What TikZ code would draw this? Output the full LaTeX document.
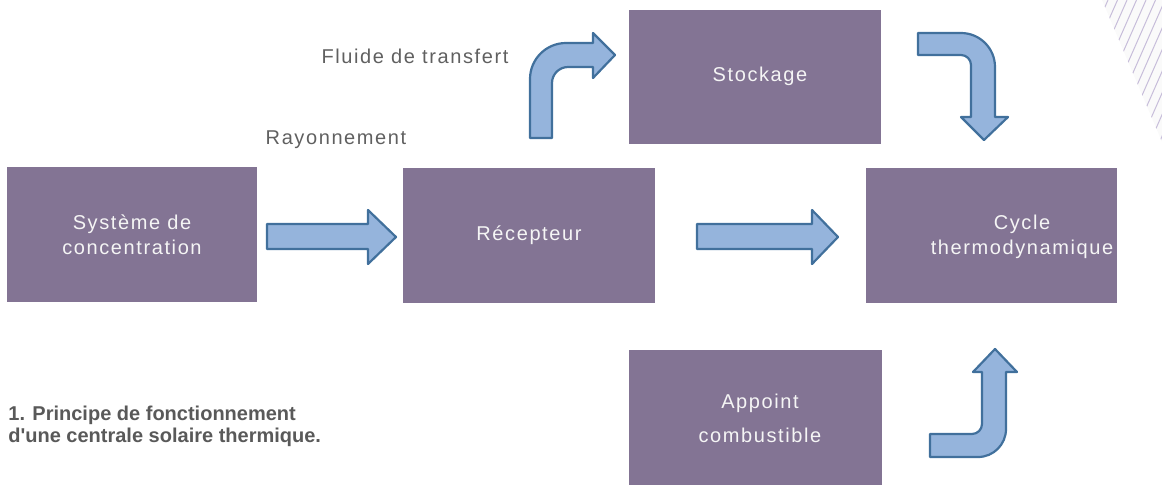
\documentclass[tikz,border=0pt]{standalone}
\usepackage{fontspec}
\setmainfont{Liberation Sans}
\newfontfamily\lblfont[LetterSpace=8]{Liberation Sans}
\newfontfamily\capfont{Liberation Sans}
\definecolor{boxc}{HTML}{837494}
\definecolor{arrfill}{HTML}{95B4DC}
\definecolor{arrline}{HTML}{41709C}
\definecolor{lblc}{HTML}{606060}
\definecolor{capc}{HTML}{595959}
\definecolor{hatchc}{HTML}{C7BDDA}
\definecolor{hatchbg}{HTML}{FAFAFA}
\tikzset{
  blk/.style={fill=boxc, inner sep=0pt, text=white!96!black, align=center,
              font=\lblfont\fontsize{10pt}{12.5pt}\selectfont},
  lbl/.style={text=lblc, inner sep=0pt, font=\lblfont\fontsize{10pt}{12pt}\selectfont},
  btxt/.style={text=white!96!black, inner sep=0pt, align=center, font=\lblfont\fontsize{10pt}{12.5pt}\selectfont},
  blockarrow/.style={fill=arrfill, draw=arrline, line width=1.1pt, line join=round},
  hatch/.style={draw=hatchc, line width=0.5pt}
}
\begin{document}
\begin{tikzpicture}[x=0.5pt,y=-0.5pt]
\useasboundingbox (0,0) rectangle (1162,484);
% hatching in the top-right corner
\begin{scope}
  \clip (1102,0) -- (1162,0) -- (1162,142) -- cycle;
  \fill[hatchbg] (1102,0) -- (1162,0) -- (1162,142) -- cycle;
  \foreach \k in {0,...,13} {
    \draw[hatch] ({1108+9.5*\k},0) -- ({1108+9.5*\k-66},150);
  }
\end{scope}
% blocks
\node[blk, minimum width=125pt, minimum height=67.5pt] (sys) at (132,234.5) {Système de\\concentration};
\node[blk, minimum width=126pt, minimum height=67.5pt] (rec) at (529,235.5) {Récepteur};
\node[blk, minimum width=126pt, minimum height=67pt] (sto) at (755,77) {};
\node[btxt] (stotxt) at (760,76) {Stockage};
\node[blk, minimum width=125.5pt, minimum height=67.5pt] (cyc) at (991.5,235.5) {};
\node[btxt] (cyctxt) at (1022,237) {Cycle\\thermodynamique};
\node[blk, minimum width=126.5pt, minimum height=70pt] (app) at (755.5,420) {};
\node[btxt, font=\lblfont\fontsize{10pt}{17pt}\selectfont] (apptxt) at (760,418) {Appoint\\combustible};
% labels
\node[lbl] (fluide) at (415,56) {Fluide de transfert};
\node[lbl] (rayon) at (336,140) {Rayonnement};
\node[anchor=north west, inner sep=0pt, text=capc, align=left,
      font=\capfont\bfseries\fontsize{10pt}{10.75pt}\selectfont] (cap) at (8,406)
      {1. Principe de fonctionnement\\d'une centrale solaire thermique.};
% straight block arrows
\draw[blockarrow] (267,224) -- (368,224) -- (368,210) -- (396,237) -- (368,264) -- (368,249) -- (267,249) -- cycle;
\draw[blockarrow] (697,224) -- (812,224) -- (812,210) -- (838,237) -- (812,264) -- (812,249) -- (697,249) -- cycle;
% bent arrow up-right (fluide de transfert)
\draw[blockarrow] (530,138) -- (530,79) .. controls (530,59.1) and (546.1,43) .. (566,43)
  -- (593,43) -- (593,33) -- (615,55) -- (593,78) -- (593,67) -- (568,67)
  .. controls (559.2,67) and (552,74.2) .. (552,83) -- (552,138) -- cycle;
% bent arrow right-down (stockage -> cycle)
\draw[blockarrow] (918,33) -- (961,33) .. controls (979.8,33) and (995,48.2) .. (995,67)
  -- (995,117) -- (1008,117) -- (984,140) -- (961,117) -- (971,117) -- (971,65)
  .. controls (971,59.5) and (966.5,55) .. (961,55) -- (918,55) -- cycle;
% bent arrow right-up (appoint -> cycle)
\draw[blockarrow] (930,434) -- (972,434) .. controls (977.5,434) and (982,429.5) .. (982,424)
  -- (982,372) -- (973,372) -- (995,349) -- (1017,372) -- (1006,372) -- (1006,429)
  .. controls (1006,444.5) and (993.5,457) .. (978,457) -- (930,457) -- cycle;
\end{tikzpicture}
\end{document}
